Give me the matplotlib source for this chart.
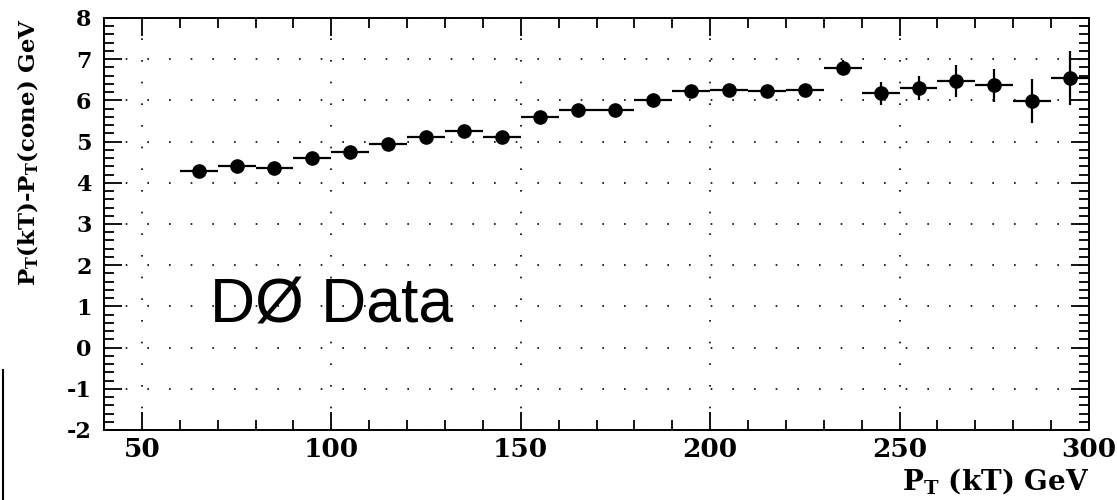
import matplotlib.pyplot as plt
import numpy as np
from matplotlib.ticker import MultipleLocator
from matplotlib.lines import Line2D

# Data: PT(kT) - PT(cone) vs PT(kT), 10 GeV bins
pt_centers = [65, 75, 85, 95, 105, 115, 125, 135, 145, 155, 165, 175,
              185, 195, 205, 215, 225, 235, 245, 255, 265, 275, 285, 295]
delta_pt = [4.29, 4.40, 4.36, 4.60, 4.75, 4.93, 5.11, 5.25, 5.11, 5.60, 5.77, 5.77,
            6.01, 6.23, 6.26, 6.23, 6.25, 6.79, 6.17, 6.30, 6.47, 6.37, 5.99, 6.55]
delta_err = [0.05, 0.05, 0.05, 0.06, 0.06, 0.07, 0.07, 0.08, 0.08, 0.09, 0.09, 0.10,
             0.10, 0.11, 0.12, 0.13, 0.14, 0.18, 0.27, 0.30, 0.39, 0.40, 0.53, 0.65]
bin_half = [5] * len(pt_centers)

serif = 'DejaVu Serif'
plt.rcParams['mathtext.fontset'] = 'custom'
plt.rcParams['mathtext.bf'] = serif + ':bold'
plt.rcParams['mathtext.rm'] = serif + ':bold'
plt.rcParams['mathtext.default'] = 'bf'
plt.rcParams['axes.unicode_minus'] = False

fig = plt.figure(figsize=(11.17, 5.0), dpi=100)
ax = fig.add_axes([104/1117, 70/500, (1089-104)/1117, (430-18)/500])

ax.errorbar(pt_centers, delta_pt, yerr=delta_err, xerr=bin_half,
            fmt='o', color='black', ms=9.5, elinewidth=1.6, capsize=0)

ax.set_xlim(40, 300)
ax.set_ylim(-2, 8)

ax.xaxis.set_major_locator(MultipleLocator(50))
ax.xaxis.set_minor_locator(MultipleLocator(10))
ax.yaxis.set_major_locator(MultipleLocator(1))
ax.yaxis.set_minor_locator(MultipleLocator(0.2))

ax.tick_params(which='both', direction='in', top=True, right=True, width=1.3)
ax.tick_params(which='major', length=13)
ax.tick_params(which='minor', length=7)
ax.tick_params(axis='x', labelsize=19, pad=5)
ax.tick_params(axis='y', labelsize=16, pad=9)
for lab in ax.get_xticklabels() + ax.get_yticklabels():
    lab.set_fontfamily(serif)
    lab.set_fontweight('bold')
ax.tick_params(labeltop=False, labelright=False)

for s in ax.spines.values():
    s.set_linewidth(1.4)

ax.grid(True, which='major', color='black', linestyle=(0, (1, 12)), linewidth=1.2)
ax.set_axisbelow(True)

ax.set_ylabel(r'P$_\mathbf{T}$(kT)-P$_\mathbf{T}$(cone) GeV', fontsize=16.5,
              fontfamily=serif, fontweight='bold', loc='top')
ax.yaxis.set_label_coords(-0.077, 1.0)
ax.yaxis.label.set_verticalalignment('center')

ax.set_xlabel(r'P$_\mathbf{T}$ (kT) GeV', fontsize=20,
              fontfamily=serif, fontweight='bold')
ax.xaxis.set_label_coords(1.0, -0.087)
ax.xaxis.label.set_horizontalalignment('right')
ax.xaxis.label.set_verticalalignment('top')

ax.text(68, 0.6, 'DØ Data', fontsize=45, fontfamily='Liberation Sans',
        ha='left', va='baseline')

fig.add_artist(Line2D([3/1117, 3/1117], [0, 130/500], color='black', lw=1.5))

plt.savefig('out.png', dpi=100)
